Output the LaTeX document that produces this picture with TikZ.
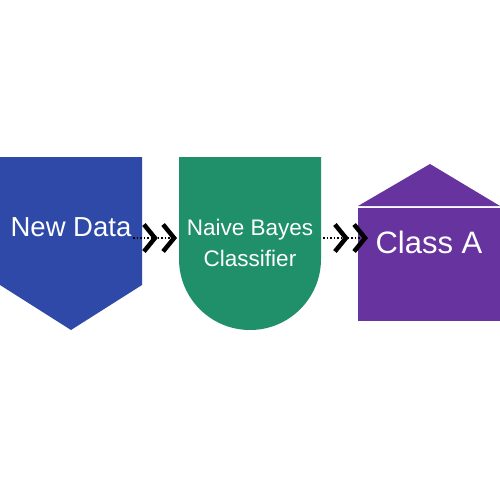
\documentclass[tikz,border=0pt]{standalone}
\usepackage{fontspec}
\setmainfont{Liberation Sans}
\usetikzlibrary{arrows.meta}

\begin{document}
\begin{tikzpicture}[x=1pt,y=-1pt,
    label/.style={text=white, align=center, inner sep=0pt},
    link/.style={dotted, line width=1.5pt,
        -{Straight Barb[line width=4.5pt, length=11pt, width=27pt, sep=3pt] Straight Barb[line width=4.5pt, length=11pt, width=27pt]}}]
            \definecolor{datacolor}{RGB}{46,73,168}
            \definecolor{bayescolor}{RGB}{31,144,106}
            \definecolor{classcolor}{RGB}{103,51,158}

            \useasboundingbox (0,0) rectangle (500,500);

            % New Data
            \fill[datacolor] (0,157) -- (142,157) -- (142,285) -- (71,330) -- (0,285) -- cycle;
            \node[label, font=\fontsize{27.5}{32}\selectfont] (newdata) at (71,227) {New Data};

            % Naive Bayes
            \fill[bayescolor] (179,157) -- (321,157) -- (321,259) arc[start angle=0, end angle=180, radius=71] -- cycle;
            \node[label, font=\fontsize{22.5}{31}\selectfont] (bayes) at (250,243) {Naive Bayes\\Classifier};

            % Class A
            \fill[classcolor] (358,206) -- (430,164) -- (500,206) -- cycle;
            \fill[classcolor] (358,207.5) rectangle (500,321);
            \node[label, font=\fontsize{31}{36}\selectfont] (classa) at (429,242) {Class A};

            % connectors
            \coordinate (a1) at (133,238);
            \coordinate (a2) at (177,238);
            \coordinate (b1) at (323,238);
            \coordinate (b2) at (368,238);
            \draw[link] (a1) -- (a2);
            \draw[link] (b1) -- (b2);
        \end{tikzpicture}
\end{document}
